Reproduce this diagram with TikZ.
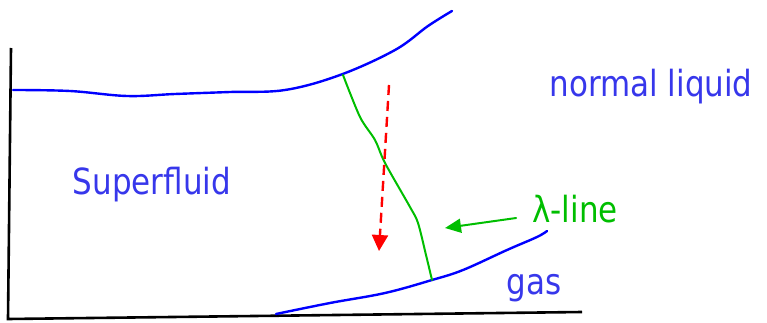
\documentclass[tikz,border=0pt]{standalone}
\usepackage{fontspec}
\newfontfamily\labelfont[FakeStretch=0.86]{DejaVu Sans}
\usetikzlibrary{arrows.meta}
\usetikzlibrary{positioning}

\definecolor{phaseblue}{RGB}{0,0,255}
\definecolor{textblue}{RGB}{55,55,235}
\definecolor{lambdagreen}{RGB}{0,190,0}

\begin{document}
\begin{tikzpicture}[x=1pt, y=-1pt,
    boundary/.style={phaseblue, line width=2.4pt, line cap=round},
    lambdaline/.style={lambdagreen, line width=2pt, line cap=round},
    phase/.style={text=textblue, font=\labelfont\fontsize{36}{36}\selectfont, inner sep=0pt},
    axis/.style={black, line width=2.6pt}]
        % Fix the size of the picture
        \useasboundingbox (0,0) rectangle (767,323);

        % Draw the axes
        \draw[axis] (11,48) -- (8,319) -- (582,312);

        % Draw the phase boundaries
        \draw[boundary] plot[smooth, tension=0.6] coordinates {(13,90) (70,91) (127,96) (175,94) (230,92) (285,90) (340,75) (395,50) (428,26) (452,11)};
        \draw[boundary] plot[smooth, tension=0.6] coordinates {(276,314) (330,303) (385,293) (432,280) (463,270) (507,250) (537,237) (547,231)};

        % Draw the lambda line
        \draw[lambdaline] plot[smooth, tension=0.5] coordinates {(343,75) (360,117) (375,140) (385,163) (410,207) (418,223) (426,255) (432,280)};

        % Draw the cooling path
        \coordinate (start) at (389,85);
        \coordinate (finish) at (379,251);
        \draw[red, line width=2.4pt, dash pattern=on 10pt off 6pt, -{Triangle[length=16pt, width=16pt]}] (start) -- (finish);

        % Label the phases
        \node[phase] (normal) at (651,87) {normal liquid};
        \node[phase] (super) at (152,185) {Superfluid};
        \node[phase] (gas) at (534,288) {gas};
        \node[phase, text=lambdagreen] (lambda) at (575,209) {λ-line};

        % Point from the label to the lambda line
        \coordinate (tip) at (445,228);
        \draw[lambdaline, -{Triangle[length=16pt, width=14pt]}] (lambda.west) ++(-16,9) -- (tip);
      \end{tikzpicture}
\end{document}
